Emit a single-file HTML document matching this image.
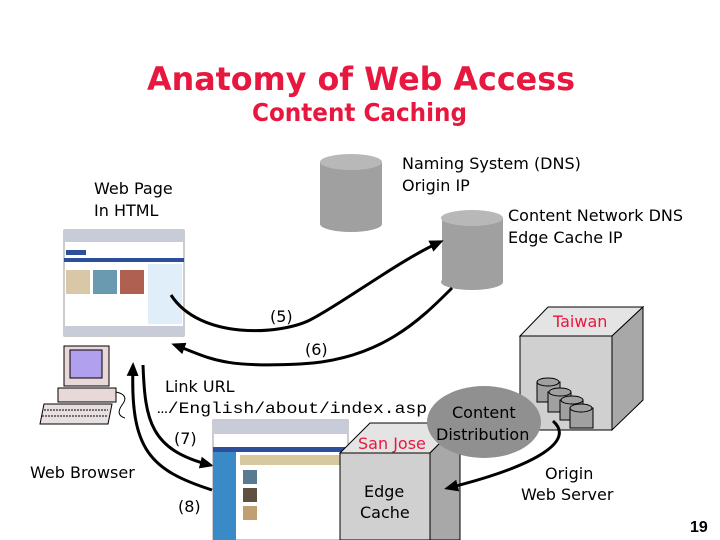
<!DOCTYPE html>
<html><head><meta charset="utf-8"><style>html,body{margin:0;padding:0;background:#fff}svg{display:block}</style></head>
<body>
<svg width="720" height="540" viewBox="0 0 720 540" xmlns="http://www.w3.org/2000/svg" font-family="DejaVu Sans, Liberation Sans, sans-serif">
<defs>
<marker id="ahb" markerWidth="14" markerHeight="14" refX="10" refY="7" orient="auto" markerUnits="userSpaceOnUse" viewBox="0 0 14 14"><path d="M0,1 L14,7 L0,13 Z" fill="#000"/></marker>
</defs>
<text x="147" y="90" font-size="32" font-weight="bold" fill="#e8173f" textLength="428" lengthAdjust="spacingAndGlyphs">Anatomy of Web Access</text>
<text x="252" y="121" font-size="25" font-weight="bold" fill="#e8173f" textLength="215" lengthAdjust="spacingAndGlyphs">Content Caching</text>

<g fill="#a0a0a0">
<rect x="320" y="162" width="62" height="62"/>
<ellipse cx="351" cy="224" rx="31" ry="8"/>
<ellipse cx="351" cy="162" rx="31" ry="8" fill="#b8b8b8"/>
<rect x="442" y="218" width="61" height="64"/>
<ellipse cx="472" cy="282" rx="31" ry="8"/>
<ellipse cx="472" cy="218" rx="31" ry="8" fill="#b8b8b8"/>
</g>
<text x="402" y="169" font-size="16">Naming System (DNS)</text>
<text x="402" y="191" font-size="16">Origin IP</text>
<text x="94" y="194" font-size="16">Web Page</text>
<text x="94" y="216" font-size="16">In HTML</text>
<text x="508" y="221" font-size="16">Content Network DNS</text>
<text x="508" y="243" font-size="16">Edge Cache IP</text>

<rect x="64" y="230" width="120" height="106" fill="#fff" stroke="#999"/>
<rect x="64" y="230" width="120" height="12" fill="#c8ccd8"/>
<rect x="64" y="258" width="120" height="4" fill="#2b4f9a"/>
<rect x="66" y="250" width="20" height="5" fill="#2b4f9a"/>
<rect x="148" y="264" width="34" height="60" fill="#e0eefa"/>
<rect x="66" y="270" width="24" height="24" fill="#d8c8a8"/>
<rect x="93" y="270" width="24" height="24" fill="#6a9ab0"/>
<rect x="120" y="270" width="24" height="24" fill="#b06050"/>
<rect x="64" y="326" width="120" height="10" fill="#c8ccd8"/>

<rect x="64" y="346" width="45" height="40" fill="#e8d8d8" stroke="#000"/>
<rect x="70" y="350" width="32" height="28" fill="#b0a0ee" stroke="#000"/>
<rect x="58" y="388" width="58" height="14" fill="#e8d8d8" stroke="#000"/>
<polygon points="44,404 112,404 108,424 40,424" fill="#e8e0e0" stroke="#000"/>
<line x1="44" y1="410" x2="108" y2="410" stroke="#000" stroke-dasharray="2,1"/>
<line x1="42" y1="416" x2="108" y2="416" stroke="#000" stroke-dasharray="2,1"/>
<path d="M116,392 Q130,395 122,405 Q115,415 125,418" fill="none" stroke="#000"/>
<text x="30" y="478" font-size="16">Web Browser</text>

<path d="M171,295 C200,340 280,335 310,320 S400,260 440,242" fill="none" stroke="#000" stroke-width="3" marker-end="url(#ahb)"/>
<path d="M452,288 C420,320 380,360 300,364 S210,358 175,345" fill="none" stroke="#000" stroke-width="3" marker-end="url(#ahb)"/>
<text x="270" y="322" font-size="16">(5)</text>
<text x="305" y="355" font-size="16">(6)</text>
<text x="165" y="392" font-size="16">Link URL</text>
<text x="157" y="413" font-size="16" font-family="Liberation Mono, monospace" textLength="270" lengthAdjust="spacingAndGlyphs">…/English/about/index.asp</text>

<path d="M143,365 C145,420 150,450 210,465" fill="none" stroke="#000" stroke-width="3" marker-end="url(#ahb)"/>
<path d="M212,490 C150,470 130,450 133,366" fill="none" stroke="#000" stroke-width="3" marker-end="url(#ahb)"/>
<text x="174" y="444" font-size="16">(7)</text>
<text x="178" y="512" font-size="16">(8)</text>

<rect x="213" y="420" width="135" height="120" fill="#fff" stroke="#999"/>
<rect x="213" y="420" width="135" height="14" fill="#c8ccd8"/>
<rect x="213" y="447" width="135" height="5" fill="#2b4f9a"/>
<rect x="213" y="452" width="23" height="88" fill="#3a8ac8"/>
<rect x="240" y="455" width="100" height="10" fill="#d8c8a0"/>
<rect x="243" y="470" width="14" height="14" fill="#5a7a90"/>
<rect x="243" y="488" width="14" height="14" fill="#605040"/>
<rect x="243" y="506" width="14" height="14" fill="#c0a070"/>

<polygon points="340,453 370,423 460,423 430,453" fill="#e4e4e4" stroke="#000"/>
<polygon points="430,453 460,423 460,540 430,540" fill="#a8a8a8" stroke="#000"/>
<rect x="340" y="453" width="90" height="87" fill="#d0d0d0" stroke="#000"/>
<text x="358" y="449" font-size="16" fill="#e8173f">San Jose</text>
<text x="364" y="497" font-size="16">Edge</text>
<text x="360" y="518" font-size="16">Cache</text>

<polygon points="520,336 548,307 643,307 612,336" fill="#e4e4e4" stroke="#000"/>
<polygon points="612,336 643,307 643,400 612,430" fill="#a8a8a8" stroke="#000"/>
<rect x="520" y="336" width="92" height="94" fill="#d0d0d0" stroke="#000"/>
<text x="553" y="327" font-size="16" fill="#e8173f">Taiwan</text>
<g fill="#a0a0a0" stroke="#000">
<rect x="537" y="382" width="23" height="20"/><ellipse cx="548" cy="382" rx="11" ry="4"/>
<rect x="548" y="392" width="23" height="20"/><ellipse cx="560" cy="392" rx="11" ry="4"/>
<rect x="560" y="400" width="23" height="20"/><ellipse cx="572" cy="400" rx="11" ry="4"/>
<rect x="570" y="408" width="23" height="20"/><ellipse cx="581" cy="408" rx="11" ry="4"/>
</g>

<ellipse cx="484" cy="422" rx="57" ry="36" fill="#909090"/>
<text x="452" y="418" font-size="16">Content</text>
<text x="436" y="440" font-size="16">Distribution</text>
<path d="M553,421 C575,440 540,465 448,488" fill="none" stroke="#000" stroke-width="3" marker-end="url(#ahb)"/>
<text x="545" y="479" font-size="16">Origin</text>
<text x="521" y="500" font-size="16">Web Server</text>
<text x="690" y="532" font-size="16" font-weight="bold" font-family="Liberation Sans, sans-serif">19</text>
</svg>
</body></html>
